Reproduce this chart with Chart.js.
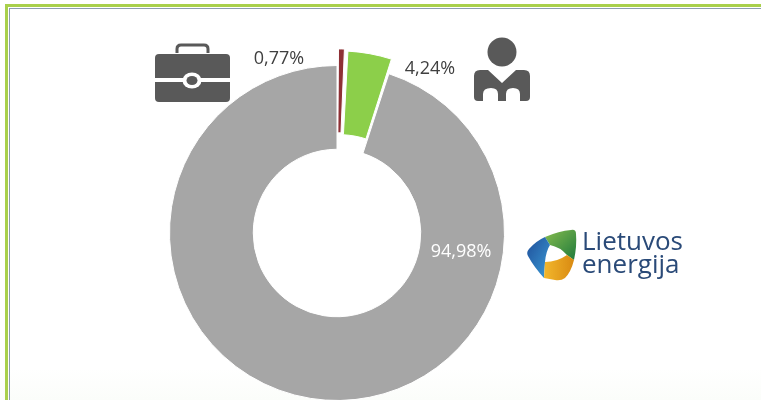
<!DOCTYPE html>
<html><head><meta charset="utf-8">
<style>
html,body{margin:0;padding:0;background:#fff;width:761px;height:400px;overflow:hidden}
#wrap{position:relative;width:761px;height:400px;overflow:hidden;background:linear-gradient(#fff 92%,#fbfdfa 100%)}
#c{position:absolute;left:0;top:0}
.f1{position:absolute;left:5px;top:4px;right:-10px;bottom:-10px;border:3px solid #a9d04c;box-sizing:border-box}
.f2{position:absolute;left:9px;top:8px;right:-10px;bottom:-10px;border:1px solid #8d9db0;box-sizing:border-box}
.ic{position:absolute}
.logo{position:absolute;left:582px;top:229px;font:26px/23px "Open Sans",sans-serif;color:#2a4a78}
.logo div{height:23px}
</style></head><body>
<div id="wrap">
<div class="f1"></div><div class="f2"></div>
<canvas id="c" width="761" height="500" style="width:761px;height:500px"></canvas>
<svg class="ic" style="left:155px;top:43px" width="75" height="60" viewBox="0 0 75 60">
<path d="M22 10 V6 Q22 2 26 2 H49 Q53 2 53 6 V10" fill="none" stroke="#595959" stroke-width="3"/>
<rect x="0" y="11" width="75" height="48" rx="4" fill="#595959"/>
<rect x="0" y="35" width="75" height="4" fill="#fff"/>
<ellipse cx="37" cy="37.500" rx="9.500" ry="8" fill="#fff"/>
<ellipse cx="37" cy="37.500" rx="5.500" ry="4.500" fill="#595959"/>
</svg>
<svg class="ic" style="left:473px;top:37px" width="58" height="66" viewBox="0 0 58 66">
<circle cx="29" cy="15" r="14.500" fill="#595959"/>
<path d="M7 33 H15 L29 46 L43 33 H51 Q57 33 57 39 V60 Q57 64 53 64 H47 V57 Q47 51 40 51 Q33 51 33 57 V64 H25 V57 Q25 51 18 51 Q10 51 10 57 V64 H5 Q1 64 1 60 V39 Q1 33 7 33Z" fill="#595959"/>
</svg>
<svg class="ic" style="left:527px;top:229px" width="50" height="52" viewBox="0 0 50 52">
<defs>
<linearGradient id="g1" x1="0" y1="0" x2="1" y2="1"><stop offset="0" stop-color="#86bc4e"/><stop offset="1" stop-color="#1f7a3c"/></linearGradient>
<linearGradient id="g2" x1="0" y1="0" x2="1" y2="1"><stop offset="0" stop-color="#1f4f9a"/><stop offset="1" stop-color="#3b9bd6"/></linearGradient>
<linearGradient id="g3" x1="0" y1="0" x2="1" y2="0"><stop offset="0" stop-color="#f2b72c"/><stop offset="1" stop-color="#d98a12"/></linearGradient>
</defs>
<path d="M18 8 Q32 2 44 1 Q49 0 49 5 Q50 17 47 31 L40 26 Q33 18 23 16 Z" fill="url(#g1)"/>
<path d="M18 8 L23 16 Q19 22 18 33 L17 49 Q7 38 1 27 Q-1 23 2 20 Q9 12 18 8Z" fill="url(#g2)"/>
<path d="M18 33 Q30 33 40 26 L47 31 Q44 43 38 49 Q34 52 28 51 L17 49Z" fill="url(#g3)"/>
</svg>
<div class="logo"><div>Lietuvos</div><div>energija</div></div>
</div>
<script src="https://cdn.jsdelivr.net/npm/chart.js@4/dist/chart.umd.min.js"></script>
<script>
const categories = ["0,77%", "4,24%", "94,98%"];
const values = [0.77, 4.24, 94.98];
const colors = ["#8e3035", "#8ccf4a", "#a6a6a6"];
const offsets = [34, 34, 0];
const labelSpots = [[279, 59, "#404040"], [430, 69, "#404040"], [461, 252, "#ffffff"]];

const labelPlugin = {
  id: "sliceLabels",
  afterDatasetsDraw(chart) {
    const ctx = chart.ctx;
    ctx.save();
    ctx.font = '18px "Open Sans", sans-serif';
    ctx.textAlign = "center";
    ctx.textBaseline = "middle";
    categories.forEach((t, i) => {
      ctx.fillStyle = labelSpots[i][2];
      ctx.fillText(t, labelSpots[i][0], labelSpots[i][1]);
    });
    ctx.restore();
  }
};

new Chart(document.getElementById("c"), {
  type: "doughnut",
  data: { labels: categories, datasets: [{ data: values, backgroundColor: colors, borderColor: "#ffffff", borderWidth: 1, offset: offsets, clip: false }] },
  options: {
    responsive: false, animation: false, cutout: "50%",
    layout: { padding: { top: 48, bottom: 82, left: 152, right: 239 } },
    plugins: { legend: { display: false }, tooltip: { enabled: false } }
  },
  plugins: [labelPlugin]
});
</script>
</body></html>
